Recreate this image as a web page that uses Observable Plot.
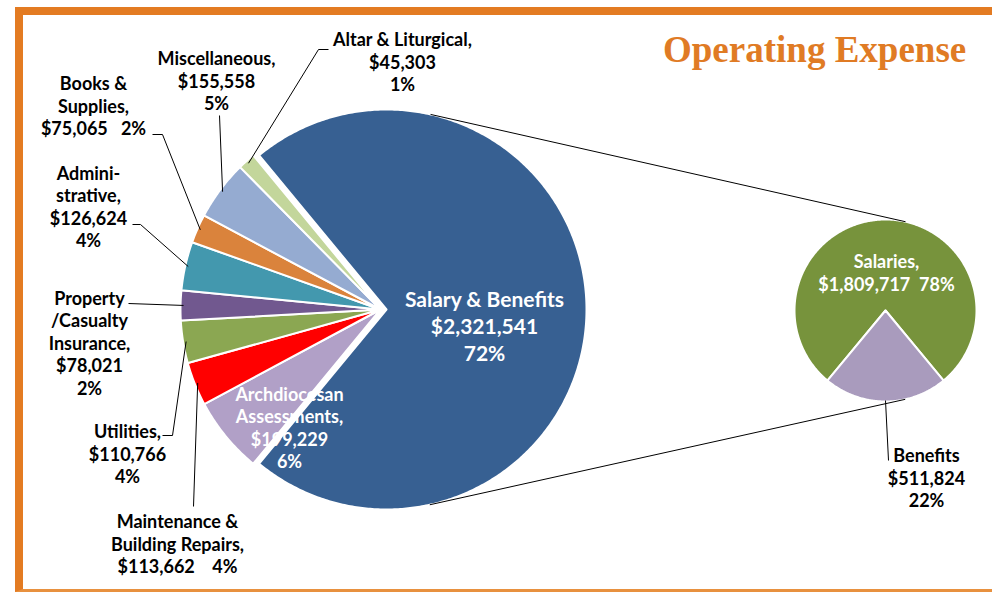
<!DOCTYPE html>
<html>
<head>
<meta charset="utf-8">
<script src="https://cdn.jsdelivr.net/npm/d3@7"></script>
<script src="https://cdn.jsdelivr.net/npm/@observablehq/plot@0.6"></script>
<style>
  body { margin: 0; background: #ffffff; }
  #wrap { position: relative; width: 992px; height: 592px; overflow: hidden; background: #ffffff; }
  #chart { position: absolute; left: 0; top: 0; }
  #frame { position: absolute; left: 15px; top: 7px; width: 1000px; height: 585px; box-sizing: border-box;
           border-left: 8px solid #E37B22; border-top: 8px solid #E37B22; border-bottom: 3px solid #E8913F; pointer-events: none; }
  #title { position: absolute; left: 663px; top: 31px; font-family: "Liberation Serif", "Times New Roman", serif;
           font-weight: bold; font-size: 37px; line-height: 37px; color: #E07B24; white-space: nowrap; }
</style>
</head>
<body>
<div id="wrap">
  <div id="chart"></div>
  <div id="frame"></div>
  <div id="title">Operating Expense</div>
</div>
<script>
// ---------- DATA ----------
const categories = ["Salary & Benefits", "Archdiocesan Assessments", "Maintenance & Building Repairs", "Utilities",
  "Property/Casualty Insurance", "Administrative", "Books & Supplies", "Miscellaneous", "Altar & Liturgical"];
const values = [2321541, 199229, 113662, 110766, 78021, 126624, 75065, 155558, 45303];
const percentLabels = ["72%", "6%", "4%", "4%", "2%", "4%", "2%", "5%", "1%"];

const subCategories = ["Salaries", "Benefits"];
const subValues = [1809717, 511824];
const subPercentLabels = ["78%", "22%"];

// label text (line breaks as in the original)
const labelNameLines = ["Salary & Benefits", "Archdiocesan\nAssessments,", "Maintenance &\nBuilding Repairs,", "Utilities,",
  "Property\n/Casualty\nInsurance,", "Admini-\nstrative,", "Books &\nSupplies,", "Miscellaneous,", "Altar & Liturgical,"];
const labelValueSep = ["\n", "\n", "\u00a0\u00a0\u00a0\u00a0", "\n", "\n", "\n", "\u00a0\u00a0\u00a0", "\n", "\n"];
const subLabelNameLines = ["Salaries,", "Benefits"];
const subLabelValueSep = ["\u00a0\u00a0", "\n"];

// ---------- STYLE / LAYOUT ----------
const sliceColors = ["#376092", "#B1A0C7", "#FF0000", "#8BA752", "#71588F", "#4398AE", "#DA833C", "#95ABD1", "#C3D69B"];
const subColors = ["#77933C", "#A99BBD"];
const labelColors = ["white", "white", "black", "black", "black", "black", "black", "black", "black"];
const subLabelColors = ["white", "black"];
const mainCenter = {x: 380, y: 309}, R = 200, explode = 6;
const subCenter = {x: 885, y: 310}, r = 91;
const labelLayout = [
  {x: 484, y: 325},
  {x: 289, y: 427},
  {x: 177, y: 543, leader: [[193, 506]]},
  {x: 127, y: 453, leader: [[162, 435], [172, 435]]},
  {x: 89, y: 342, leader: [[128, 303]]},
  {x: 88, y: 206, leader: [[132, 224], [140, 224]]},
  {x: 93, y: 105, leader: [[152, 134], [162, 134]]},
  {x: 216, y: 80, leader: [[219, 115]]},
  {x: 402, y: 61, leader: [[328, 49], [318, 49]]}
];
const subLabelLayout = [
  {x: 886, y: 272},
  {x: 926, y: 477, leader: [[888, 460]]}
];
const FONT = "Lato, 'Open Sans', sans-serif";

// ---------- GEOMETRY ----------
const fmt = d3.format("$,");
const TAU = 2 * Math.PI;
const pt = (c, rad, a) => [c.x + rad * Math.sin(a), c.y - rad * Math.cos(a)];

const total = d3.sum(values);
const a0 = Math.PI / 2 - (values[0] / total) * TAU / 2;
const arcs = d3.pie().sort(null).value(d => d).startAngle(a0).endAngle(a0 + TAU)(values);

const subTotal = d3.sum(subValues);
const b = (subValues[1] / subTotal) * TAU;
const subArcs = d3.pie().sort(null).value(d => d).startAngle(-Math.PI + b / 2).endAngle(-Math.PI + b / 2 + TAU)(subValues);

function sliceRows(arc, c, rad, key, fill) {
  const rows = [{key, fill, x: c.x, y: c.y}];
  const n = Math.max(2, Math.ceil((arc.endAngle - arc.startAngle) / 0.01));
  for (let k = 0; k <= n; k++) {
    const a = arc.startAngle + (arc.endAngle - arc.startAngle) * k / n;
    const [x, y] = pt(c, rad, a);
    rows.push({key, fill, x, y});
  }
  return rows;
}

const mainCenters = arcs.map((a, i) => {
  const mid = (a.startAngle + a.endAngle) / 2;
  const e = i === 0 ? explode : 0;
  const [x, y] = pt(mainCenter, e, mid);
  return {x, y};
});

let slices = [];
arcs.forEach((a, i) => { if (i > 0) slices = slices.concat(sliceRows(a, mainCenters[i], R, "m" + i, sliceColors[i])); });
slices = slices.concat(sliceRows(arcs[0], mainCenters[0], R, "m0", sliceColors[0]));
subArcs.forEach((a, i) => { slices = slices.concat(sliceRows(a, subCenter, r, "s" + i, subColors[i])); });

// connector lines: external common tangents of the two pies
const C1 = mainCenters[0];
const dxc = subCenter.x - C1.x, dyc = subCenter.y - C1.y;
const dist = Math.hypot(dxc, dyc);
const base = Math.atan2(dyc, dxc);
const phi = Math.acos((R - r) / dist);
const connectors = [base - phi, base + phi].map(t => ({
  x1: C1.x + R * Math.cos(t), y1: C1.y + R * Math.sin(t),
  x2: subCenter.x + r * Math.cos(t), y2: subCenter.y + r * Math.sin(t)
}));

// leader lines
let leaders = [];
arcs.forEach((a, i) => {
  const L = labelLayout[i];
  if (!L.leader) return;
  const mid = (a.startAngle + a.endAngle) / 2;
  const end = pt(mainCenters[i], R - 3, mid);
  L.leader.concat([end]).forEach(([x, y]) => leaders.push({key: "l" + i, x, y}));
});
subArcs.forEach((a, i) => {
  const L = subLabelLayout[i];
  if (!L.leader) return;
  const mid = (a.startAngle + a.endAngle) / 2;
  const end = pt(subCenter, r - 1, mid);
  L.leader.concat([end]).forEach(([x, y]) => leaders.push({key: "sl" + i, x, y}));
});

// labels
const labels = categories.map((c, i) => ({
  x: labelLayout[i].x, y: labelLayout[i].y, fill: labelColors[i], big: i === 0,
  text: labelNameLines[i] + "\n" + fmt(values[i]) + labelValueSep[i] + percentLabels[i]
}));
const subLabels = subCategories.map((c, i) => ({
  x: subLabelLayout[i].x, y: subLabelLayout[i].y, fill: subLabelColors[i],
  text: subLabelNameLines[i] + "\n" + fmt(subValues[i]) + subLabelValueSep[i] + subPercentLabels[i]
}));

const chart = Plot.plot({
  width: 992, height: 592,
  marginTop: 0, marginRight: 0, marginBottom: 0, marginLeft: 0,
  x: {domain: [0, 992], range: [0, 992], axis: null},
  y: {domain: [0, 592], range: [0, 592], axis: null},
  color: {type: "identity"},
  style: {background: "transparent"},
  marks: [
    Plot.line(slices, {x: "x", y: "y", z: "key", fill: "fill", stroke: "white", strokeWidth: 2, curve: "linear-closed"}),
    Plot.link(connectors, {x1: "x1", y1: "y1", x2: "x2", y2: "y2", stroke: "black", strokeWidth: 1}),
    Plot.line(leaders, {x: "x", y: "y", z: "key", stroke: "black", strokeWidth: 1, strokeLinecap: "butt", strokeLinejoin: "miter"}),
    Plot.text(labels.filter(d => !d.big), {x: "x", y: "y", text: "text", fill: "fill", fontSize: 18, lineHeight: 1.25,
      fontWeight: "bold", fontFamily: FONT, textAnchor: "middle", lineAnchor: "middle"}),
    Plot.text(labels.filter(d => d.big), {x: "x", y: "y", text: "text", fill: "fill", fontSize: 21, lineHeight: 1.28,
      fontWeight: "bold", fontFamily: FONT, textAnchor: "middle", lineAnchor: "middle"}),
    Plot.text(subLabels, {x: "x", y: "y", text: "text", fill: "fill", fontSize: 18, lineHeight: 1.25,
      fontWeight: "bold", fontFamily: FONT, textAnchor: "middle", lineAnchor: "middle"})
  ]
});
document.getElementById("chart").appendChild(chart);
</script>
</body>
</html>
